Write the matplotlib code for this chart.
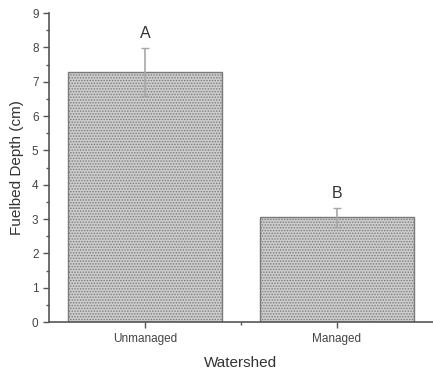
import numpy as np
import matplotlib.pyplot as plt
from matplotlib.ticker import MultipleLocator, FixedLocator

plt.rcParams['font.family'] = ['Liberation Sans', 'DejaVu Sans']
plt.rcParams['hatch.color'] = '#8a8a8a'
plt.rcParams['hatch.linewidth'] = 0.7

# mean fuelbed depth by watershed type
watersheds = ['Unmanaged', 'Managed']
depth = [7.28, 3.05]
depth_err = [0.70, 0.27]
groups = ['A', 'B']

fig = plt.figure(figsize=(4.33, 3.75), dpi=100)
ax = fig.add_axes([0.113, 0.141, 0.887, 0.824])

x = np.arange(1, len(watersheds) + 1)
ax.bar(x, depth, width=0.8, color='#cdcdcd', edgecolor='#7a7a7a',
       linewidth=1.0, hatch='......')
ax.errorbar(x, depth, yerr=depth_err, fmt='none', ecolor='#a8a8a8',
            elinewidth=1.2, capsize=3, capthick=1.0)

# significance letters above the error bars
for xi, d, e, g in zip(x, depth, depth_err, groups):
    ax.text(xi, d + e + 0.2, g, ha='center', va='bottom',
            fontsize=11.5, color='#333333')

ax.set_xlim(0.5, 2.5)
ax.set_ylim(0, 9)
ax.set_xticks(x)
ax.set_xticklabels(watersheds)
ax.xaxis.set_minor_locator(FixedLocator([1.5]))
ax.yaxis.set_major_locator(MultipleLocator(1))
ax.yaxis.set_minor_locator(MultipleLocator(0.5))

for s in ['top', 'right']:
    ax.spines[s].set_visible(False)
for s in ['left', 'bottom']:
    ax.spines[s].set_color('#555555')
    ax.spines[s].set_linewidth(1.2)

ax.tick_params(axis='both', which='major', color='#555555', labelcolor='#444444',
               labelsize=8.5, length=4, width=1)
ax.tick_params(axis='both', which='minor', color='#555555', length=2.5, width=1)

ax.set_ylabel('Fuelbed Depth (cm)', fontsize=11, color='#333333', labelpad=6)
ax.set_xlabel('Watershed', fontsize=11, color='#333333', labelpad=8)

fig.savefig('out.png', dpi=100)
